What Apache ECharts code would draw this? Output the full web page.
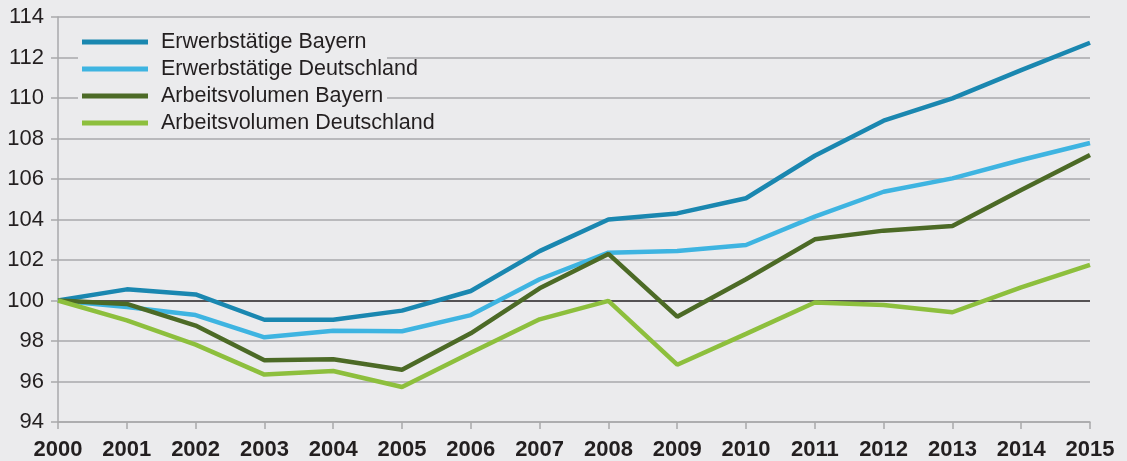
<!DOCTYPE html>
<html>
<head>
<meta charset="utf-8">
<script src="https://cdn.jsdelivr.net/npm/echarts@6/dist/echarts.min.js"></script>
<style>
  html, body { margin: 0; padding: 0; background: #ebebed; }
  #chart { width: 1127px; height: 461px; }
</style>
</head>
<body>
<div id="chart"></div>
<script>
// years on the x axis
var years = ['2000', '2001', '2002', '2003', '2004', '2005', '2006', '2007',
             '2008', '2009', '2010', '2011', '2012', '2013', '2014', '2015']

// index values, 2000 = 100
var erwerbBayern = [100, 100.55, 100.3, 99.05, 99.05, 99.5, 100.47, 102.44,
                    104.0, 104.3, 105.05, 107.15, 108.88, 109.98, 111.38, 112.73]
var erwerbDeutschland = [100, 99.68, 99.28, 98.18, 98.51, 98.48, 99.28, 101.05,
                         102.36, 102.44, 102.74, 104.14, 105.37, 106.03, 106.94, 107.78]
var arbeitBayern = [100, 99.83, 98.76, 97.05, 97.1, 96.58, 98.38, 100.6,
                    102.3, 99.2, 101.05, 103.02, 103.45, 103.68, 105.46, 107.19]
var arbeitDeutschland = [100, 99.02, 97.82, 96.34, 96.52, 95.73, 97.42, 99.07,
                         99.98, 96.83, 98.35, 99.9, 99.78, 99.42, 100.65, 101.76]

// y ticks 94..114, the 100 line is black
var yMin = 94, yMax = 114, yStep = 2

var textColor = '#231f20'
var gridColor = '#a9a9ab'
var font = '"Liberation Sans", Arial, sans-serif'

var splitColors = []
for (var v = yMin; v <= yMax; v += yStep) {
  splitColors.push(v === 100 ? textColor : gridColor)
}

var chart = echarts.init(document.getElementById('chart'))

function lineSeries(name, data, color) {
  return {
    name: name,
    type: 'line',
    data: data,
    color: color,
    showSymbol: false,
    symbol: 'none',
    lineStyle: { width: 4.5, color: color },
    z: 3
  }
}

chart.setOption({
  backgroundColor: '#ebebed',
  animation: false,
  textStyle: { fontFamily: font },
  grid: { left: 58, right: 37, top: 17, bottom: 39 },
  // box behind the legend, hides the grid lines like the original
  graphic: [{
    type: 'rect',
    left: 78, top: 28,
    shape: { width: 309, height: 106 },
    style: { fill: '#ebebed' },
    z: 1
  }],
  legend: {
    orient: 'vertical',
    left: 82,
    top: 31,
    padding: 0,
    itemGap: 5,
    itemWidth: 66,
    itemHeight: 5,
    icon: 'rect',
    textStyle: {
      fontSize: 21.5,
      color: textColor,
      lineHeight: 22,
      padding: [0, 0, 0, 8],
      fontFamily: font
    },
    data: ['Erwerbstätige Bayern', 'Erwerbstätige Deutschland',
           'Arbeitsvolumen Bayern', 'Arbeitsvolumen Deutschland']
  },
  xAxis: {
    type: 'category',
    data: years,
    boundaryGap: false,
    axisLine: { lineStyle: { color: gridColor, width: 1.5 } },
    axisTick: { show: true, length: 7, interval: 0, lineStyle: { color: gridColor, width: 1.5 } },
    axisLabel: {
      interval: 0,
      margin: 17,
      fontSize: 22,
      fontWeight: 'bold',
      color: textColor,
      fontFamily: font
    },
    splitLine: { show: false }
  },
  yAxis: {
    type: 'value',
    min: yMin,
    max: yMax,
    interval: yStep,
    axisLine: { show: true, lineStyle: { color: gridColor, width: 1.5 } },
    axisTick: { show: true, length: 7, lineStyle: { color: gridColor, width: 1.5 } },
    axisLabel: {
      margin: 14,
      fontSize: 22,
      color: textColor,
      fontFamily: font
    },
    splitLine: { show: true, lineStyle: { color: splitColors, width: 1.5 } }
  },
  series: [
    lineSeries('Erwerbstätige Bayern', erwerbBayern, '#1a87b0'),
    lineSeries('Erwerbstätige Deutschland', erwerbDeutschland, '#3eb4e1'),
    lineSeries('Arbeitsvolumen Bayern', arbeitBayern, '#4c6a26'),
    lineSeries('Arbeitsvolumen Deutschland', arbeitDeutschland, '#8dbf3d')
  ]
})
</script>
</body>
</html>
